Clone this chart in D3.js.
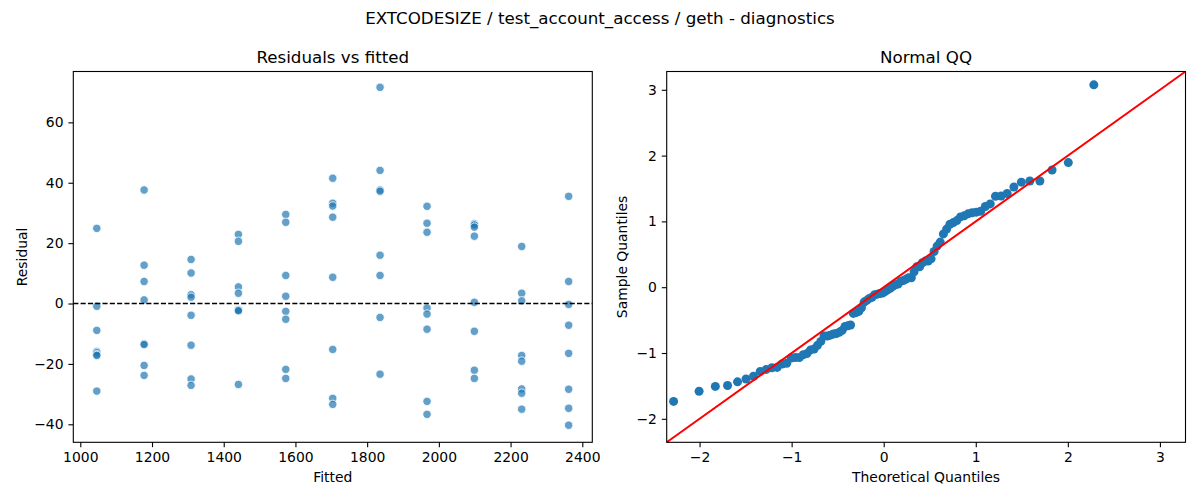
<!DOCTYPE html>
<html>
<head>
<meta charset="utf-8">
<script src="https://cdn.jsdelivr.net/npm/d3@7"></script>
<style>
  body { margin: 0; background: #fff; }
  text { font-family: "DejaVu Sans", sans-serif; fill: #000; }
</style>
</head>
<body>
<svg id="fig" width="1200" height="500"></svg>
<script>
// fitted value of each column
var fitted = [1046, 1178, 1309, 1441, 1573, 1704, 1836, 1967, 2099, 2231, 2362];
// residuals, one list per fitted column
var residuals = [
  [24.9, -0.9, -8.9, -15.9, -16.3, -16.9, -17.2, -29.0],
  [37.6, 12.7, 7.3, 1.2, -13.3, -13.6, -20.5, -23.8],
  [14.6, 10.1, 2.9, 2.1, -3.9, -13.8, -25.0, -27.1],
  [22.9, 20.6, 5.5, 3.4, -2.0, -2.2, -2.4, -26.8],
  [29.5, 26.9, 9.3, 2.4, -2.6, -5.2, -21.8, -24.8],
  [41.5, 33.2, 32.3, 28.6, 8.7, -15.2, -31.4, -33.4],
  [71.6, 44.1, 37.6, 37.2, 16.0, 9.3, -4.6, -23.4],
  [32.2, 26.6, 23.6, -1.5, -3.5, -8.5, -32.4, -36.7],
  [26.4, 26.0, 25.3, 22.3, 0.4, -9.2, -22.1, -24.8],
  [18.9, 3.4, 0.9, -17.2, -19.1, -28.3, -29.7, -35.0],
  [35.5, 7.3, -0.3, -7.2, -16.5, -28.4, -34.7, -40.3]
];
var fitTicks = [1000, 1200, 1400, 1600, 1800, 2000, 2200, 2400];
var resTicks = [-40, -20, 0, 20, 40, 60];
var qqTicks = [-2, -1, 0, 1, 2, 3];

var svg = d3.select('#fig');
var blue = '#1f77b4';
var fs = 13.9;
var fmt = d3.format('d');

// inverse normal cdf (Acklam)
function ppf(p) {
  var a = [-39.69683028665376, 220.9460984245205, -275.9285104469687, 138.3577518672690, -30.66479806614716, 2.506628277459239];
  var b = [-54.47609879822406, 161.5858368580409, -155.6989798598866, 66.80131188771972, -13.28068155288572];
  var c = [-0.007784894002430293, -0.3223964580411365, -2.400758277161838, -2.549732539343734, 4.374664141464968, 2.938163982698783];
  var d = [0.007784695709041462, 0.3224671290700398, 2.445134137142996, 3.754408661907416];
  var q, r;
  if (p < 0.02425) {
    q = Math.sqrt(-2 * Math.log(p));
    return (((((c[0]*q+c[1])*q+c[2])*q+c[3])*q+c[4])*q+c[5]) / ((((d[0]*q+d[1])*q+d[2])*q+d[3])*q+1);
  }
  if (p > 1 - 0.02425) {
    q = Math.sqrt(-2 * Math.log(1 - p));
    return -(((((c[0]*q+c[1])*q+c[2])*q+c[3])*q+c[4])*q+c[5]) / ((((d[0]*q+d[1])*q+d[2])*q+d[3])*q+1);
  }
  q = p - 0.5; r = q * q;
  return (((((a[0]*r+a[1])*r+a[2])*r+a[3])*r+a[4])*r+a[5])*q / (((((b[0]*r+b[1])*r+b[2])*r+b[3])*r+b[4])*r+1);
}

var points = [];
fitted.forEach(function(f, i) {
  residuals[i].forEach(function(r) { points.push({ x: f, y: r }); });
});

// suptitle
svg.append('text').attr('x', 600).attr('y', 24).attr('text-anchor', 'middle')
  .style('font-size', '16.7px').text('EXTCODESIZE / test_account_access / geth - diagnostics');

function panel(left, right, top, bottom, title, xlabel) {
  var g = svg.append('g');
  g.append('text').attr('x', (left + right) / 2).attr('y', top - 8.5)
    .attr('text-anchor', 'middle').style('font-size', '16.7px').text(title);
  g.append('text').attr('x', (left + right) / 2).attr('y', bottom + 40)
    .attr('text-anchor', 'middle').style('font-size', fs + 'px').text(xlabel);
  return g;
}

function axes(g, x, y, xt, yt, left, bottom) {
  var ax = g.append('g').attr('transform', 'translate(0,' + bottom + ')')
    .call(d3.axisBottom(x).tickValues(xt).tickFormat(fmt).tickSize(4.9).tickPadding(4.9).tickSizeOuter(0));
  var ay = g.append('g').attr('transform', 'translate(' + left + ',0)')
    .call(d3.axisLeft(y).tickValues(yt).tickFormat(fmt).tickSize(4.9).tickPadding(4.9).tickSizeOuter(0));
  [ax, ay].forEach(function(a) {
    a.select('.domain').remove();
    a.selectAll('line').attr('stroke', '#000').attr('stroke-width', 1.1);
    a.selectAll('text').style('font-size', fs + 'px').style('font-family', '"DejaVu Sans", sans-serif');
  });
}

function frame(g, left, right, top, bottom) {
  g.append('rect').attr('x', left).attr('y', top)
    .attr('width', right - left).attr('height', bottom - top)
    .attr('fill', 'none').attr('stroke', '#000').attr('stroke-width', 1.1);
}

// ---- Residuals vs fitted ----
var L1 = 73.3, R1 = 592.3, T = 71.5, B = 442.3;
var x1 = d3.scaleLinear().domain([980.5, 2427.9]).range([L1, R1]);
var y1 = d3.scaleLinear().domain([-45.96, 76.84]).range([B, T]);
var g1 = panel(L1, R1, T, B, 'Residuals vs fitted', 'Fitted');
g1.append('text').attr('transform', 'translate(27,' + (T + B) / 2 + ') rotate(-90)')
  .attr('text-anchor', 'middle').style('font-size', fs + 'px').text('Residual');
g1.selectAll('circle.pt').data(points).enter().append('circle')
  .attr('cx', function(d) { return x1(d.x); })
  .attr('cy', function(d) { return y1(d.y); })
  .attr('r', 4.2)
  .attr('fill', blue).attr('fill-opacity', 0.7)
  .attr('stroke', '#fff').attr('stroke-width', 0.8);
g1.append('line').attr('x1', L1).attr('x2', R1).attr('y1', y1(0)).attr('y2', y1(0))
  .attr('stroke', '#000').attr('stroke-width', 1.3).attr('stroke-dasharray', '5.1,2.2');
axes(g1, x1, y1, fitTicks, resTicks, L1, B);
frame(g1, L1, R1, T, B);

// ---- Normal QQ ----
var L2 = 666.7, R2 = 1185.5;
var all = points.map(function(d) { return d.y; }).sort(d3.ascending);
var n = all.length;
var mu = d3.mean(all);
var sd = Math.sqrt(d3.mean(all, function(v) { return (v - mu) * (v - mu); }));
var qq = all.map(function(v, i) { return { t: ppf((i + 1) / (n + 1)), s: (v - mu) / sd }; });

var lim = [-2.357, 3.278];
var x2 = d3.scaleLinear().domain(lim).range([L2, R2]);
var y2 = d3.scaleLinear().domain(lim).range([B, T]);
var g2 = panel(L2, R2, T, B, 'Normal QQ', 'Theoretical Quantiles');
g2.append('text').attr('transform', 'translate(627,' + (T + B) / 2 + ') rotate(-90)')
  .attr('text-anchor', 'middle').style('font-size', fs + 'px').text('Sample Quantiles');
g2.selectAll('circle.pt').data(qq).enter().append('circle')
  .attr('cx', function(d) { return x2(d.t); })
  .attr('cy', function(d) { return y2(d.s); })
  .attr('r', 4.5).attr('fill', blue);
g2.append('line').attr('x1', x2(lim[0])).attr('y1', y2(lim[0]))
  .attr('x2', x2(lim[1])).attr('y2', y2(lim[1]))
  .attr('stroke', 'red').attr('stroke-width', 2);
axes(g2, x2, y2, qqTicks, qqTicks, L2, B);
frame(g2, L2, R2, T, B);
</script>
</body>
</html>
